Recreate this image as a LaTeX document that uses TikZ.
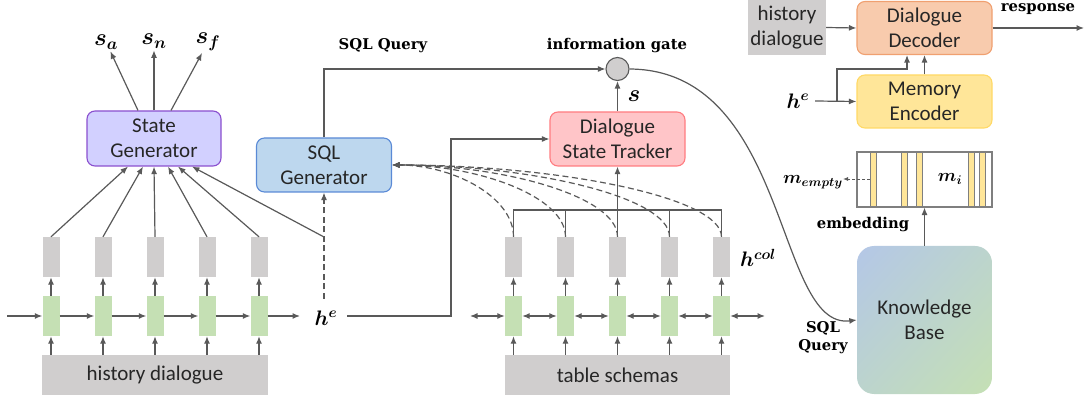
\RequirePackage{fix-cm}
\documentclass[tikz,border=0pt]{standalone}
\usepackage{amsmath,bm}
\usepackage{fontspec}
\newfontfamily\boxfam{Carlito}
\newfontfamily\labfam{DejaVu Serif}
\usetikzlibrary{arrows.meta,calc,shadings}
\definecolor{lc}{HTML}{595959}
\definecolor{cgreen}{HTML}{C5E0B4}
\definecolor{cgray}{HTML}{D0CECE}
\definecolor{ctext}{HTML}{262626}
\definecolor{sgfill}{HTML}{D2D0FF}
\definecolor{sgdraw}{HTML}{8A4FCF}
\definecolor{sqfill}{HTML}{BDD7EE}
\definecolor{sqdraw}{HTML}{5A8AD6}
\definecolor{dsfill}{HTML}{FFC5C8}
\definecolor{dsdraw}{HTML}{FF7C80}
\definecolor{decfill}{HTML}{F8CBAD}
\definecolor{decdraw}{HTML}{F0A070}
\definecolor{memfill}{HTML}{FFE699}
\definecolor{memdraw}{HTML}{FFD966}
\definecolor{cmem}{HTML}{7F7F7F}
\definecolor{kbA}{HTML}{B4C7E7}
\definecolor{kbB}{HTML}{C5E0B4}
\definecolor{kbM}{HTML}{BCD4CD}
\newcommand{\bx}{\boxfam\fontsize{21}{25}\selectfont}
\newcommand{\lb}{\labfam\bfseries\fontsize{14.8}{18}\selectfont}
\newcommand{\msz}[1]{\fontsize{#1}{#1}\selectfont}
\begin{document}
\begin{tikzpicture}[x=1pt,y=-1pt,
  line/.style={draw=lc, line width=1.2pt},
  arr/.style={line, -{Latex[length=7.5pt,width=6pt]}},
  darr/.style={line, {Latex[length=7.5pt,width=6pt]}-{Latex[length=7.5pt,width=6pt]}},
  gcell/.style={fill=cgreen, minimum width=17pt, minimum height=40pt, inner sep=0pt},
  kcell/.style={fill=cgray, minimum width=17pt, minimum height=40pt, inner sep=0pt},
  rbox/.style={rounded corners=8pt, line width=1.1pt, align=center, inner sep=0pt, font=\bx, text=ctext, minimum width=135pt, minimum height=54pt},
  gbox/.style={fill=cgray, align=center, inner sep=0pt, font=\bx, text=ctext},
  lab/.style={font=\lb, text=black, inner sep=1pt, align=center},
  mlab/.style={inner sep=2pt, text=black},
  dsh/.style={dash pattern=on 6pt off 3.5pt}
]
\useasboundingbox (0,0) rectangle (1087,403);

% ---------- left encoder ----------
\node[gbox, minimum width=226pt, minimum height=40pt] (hd) at (155,375) {history dialogue};
\foreach \i/\x in {1/51,2/103,3/155,4/207,5/259} {
  \node[gcell] (g\i) at (\x,316) {};
  \node[kcell] (k\i) at (\x,257) {};
  \draw[arr] (g\i.north) -- (k\i.south);
  \draw[arr] (hd.north -| g\i) -- (g\i.south);
}
\coordinate (lin) at (7,316);
\draw[arr] (lin) -- (g1.west);
\foreach \a/\b in {1/2,2/3,3/4,4/5} \draw[arr] (g\a.east) -- (g\b.west);
\node[mlab] (he) at (326,318) {\msz{21}$\bm{h^e}$};
\coordinate (heL) at (300,316);
\draw[arr] (g5.east) -- (heL);

% ---------- state generator ----------
\node[rbox, draw=sgdraw, fill=sgfill, minimum width=134pt, minimum height=55pt] (sg) at (154,138.5) {State\\Generator};
\foreach \i/\o in {1/-26,2/-11,3/0,4/14,5/24} \draw[arr] (k\i.north) -- ([xshift=\o pt]sg.south);
\coordinate (hej) at (324,237);
\coordinate (het) at (324,299);
\draw[arr] (hej) -- ([xshift=38pt]sg.south);
\node[mlab] (sa) at (106,42) {\msz{24}$\bm{s_a}$};
\node[mlab] (sn) at (154,41) {\msz{24}$\bm{s_n}$};
\node[mlab] (sf) at (208,42) {\msz{24}$\bm{s_f}$};
\draw[arr] ([xshift=-16pt]sg.north) -- (sa);
\draw[arr] (sg.north) -- (sn);
\draw[arr] ([xshift=17pt]sg.north) -- (sf);

% ---------- SQL generator, gate, DST ----------
\node[rbox, draw=sqdraw, fill=sqfill] (sq) at (324,165) {SQL\\Generator};
\draw[arr, dsh] (het) -- (sq.south);
\node[lab] (sqlq) at (383,46) {SQL Query};
\node[circle, draw=lc, fill=cgray, line width=1.1pt, minimum size=23pt, inner sep=0pt] (gate) at (617.5,69) {};
\draw[arr] (sq.north) |- (gate.west);
\node[lab] (ig) at (617,46) {information gate};
\node[rbox, draw=dsdraw, fill=dsfill] (ds) at (617.5,139) {Dialogue\\State Tracker};
\draw[arr] (ds.north) -- (gate.south);
\node[mlab] (s) at (634,96) {\msz{24}$\bm{s}$};
\coordinate (heR) at (347,316);
\coordinate (bend) at (451,139);
\draw[arr] (heR) -| (bend) -- (ds.west);

% ---------- table encoder ----------
\node[gbox, minimum width=225pt, minimum height=40pt] (ts) at (617.5,375) {table schemas};
\foreach \i/\x in {1/513.5,2/565.5,3/617.5,4/669.5,5/721.5} {
  \node[gcell] (tg\i) at (\x,316) {};
  \node[kcell] (tk\i) at (\x,257) {};
  \draw[arr] (tg\i.north) -- (tk\i.south);
  \draw[arr] (ts.north -| tg\i) -- (tg\i.south);
}
\coordinate (tl) at (470,316);
\coordinate (tr) at (765,316);
\draw[darr] (tl) -- (tg1.west);
\foreach \a/\b in {1/2,2/3,3/4,4/5} \draw[darr] (tg\a.east) -- (tg\b.west);
\draw[darr] (tg5.east) -- (tr);
\coordinate (tb) at (617.5,210);
\draw[line] (tk1.north) |- (tb) -| (tk5.north);
\draw[line] (tk2.north) -- (tk2.north |- tb);
\draw[line] (tk4.north) -- (tk4.north |- tb);
\draw[arr] (tk3.north) -- (ds.south);
\foreach \i/\d in {1/61,2/87,3/113,4/139,5/165}
  \draw[arr, dsh] (tk\i.north) .. controls +(0,-40) and +(\d,0) .. (sq.east);
\node[mlab] (hcol) at (758,258) {\msz{21}$\bm{h^{col}}$};

% ---------- right panel ----------
\node[gbox, minimum width=78pt, minimum height=55pt] (hd2) at (787,27.5) {history\\dialogue};
\node[rbox, draw=decdraw, fill=decfill, minimum height=53pt] (dec) at (924.5,28) {Dialogue\\Decoder};
\draw[arr] (hd2.east) -- (dec.west);
\coordinate (resp) at (1084,28);
\draw[arr] (dec.east) -- (resp);
\node[lab] (rl) at (1038,9) {response};
\node[rbox, draw=memdraw, fill=memfill, minimum height=53pt] (mem) at (924.5,101.5) {Memory\\Encoder};
\draw[arr] (mem.north) -- (dec.south);
\node[mlab] (he2) at (798,101) {\msz{21}$\bm{h^e}$};
\coordinate (he2R) at (815,101);
\coordinate (br) at (837,101);
\coordinate (bt) at (907,69);
\draw[arr] (he2R) -- (mem.west);
\draw[arr] (br) |- (bt) -- (bt |- dec.south);

\node[draw=cmem, line width=1.1pt, minimum width=135pt, minimum height=55pt, inner sep=0pt] (mb) at (924.5,179.5) {};
\foreach \a in {870,901,916,968,979}
  \draw[draw=cmem, fill=memfill, line width=0.8pt] (\a,152) rectangle (\a+6,207);
\node[draw=cmem, line width=1.1pt, minimum width=135pt, minimum height=55pt, inner sep=0pt] (mbb) at (mb) {};
\node[mlab] (mi) at (950,179) {\msz{18}$\bm{m_i}$};
\node[mlab] (me) at (813,182) {\msz{18}$\bm{m_{empty}}$};
\coordinate (mst) at (870,179);
\coordinate (meR) at (843,179);
\draw[line, line width=0.9pt, dash pattern=on 3pt off 2pt, -{Latex[length=5pt,width=4pt]}] (mst) -- (meR);

\node[rounded corners=17pt, upper left=kbA, lower right=kbB, upper right=kbM, lower left=kbM,
  minimum width=135pt, minimum height=148pt, inner sep=0pt, font=\bx, text=ctext, align=center] (kb) at (924.5,320) {Knowledge\\Base};
\draw[arr] (kb.north) -- (mb.south);
\node[lab] (emb) at (863,225) {embedding};
\node[lab] (sqlq2) at (823,338) {SQL\\Query};
\draw[arr] (gate.east) .. controls (790,70) and (775,330) .. (kb.west);
\end{tikzpicture}
\end{document}
